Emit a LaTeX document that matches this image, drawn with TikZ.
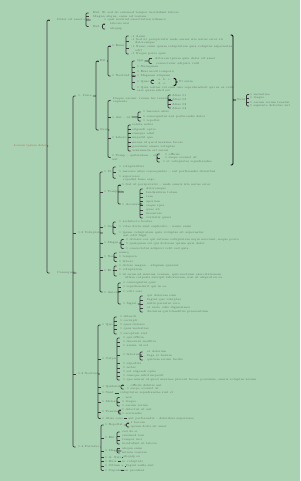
\documentclass[tikz,border=0pt]{standalone}
\usetikzlibrary{calc}
\definecolor{bg}{RGB}{168,210,177}
\definecolor{ln}{RGB}{58,58,58}
\definecolor{tx}{RGB}{100,116,105}
\definecolor{rt}{RGB}{196,96,84}
\tikzset{
  t/.style={anchor=west,inner sep=0pt,align=left,text=tx,font=\fontsize{2.9}{3.4}\selectfont},
  br/.style={draw=ln,line width=0.7pt,rounded corners=1.2pt},
  sm/.style={draw=black,line width=0.85pt,rounded corners=1.2pt}
}
\newcommand\T[4]{\node[t] (#1) at (#2,#3) {#4};}
% brace: bar x, parent, first child, last child, middle children
\newcommand\brc[5]{%
  \draw[br] let \p1=(#2.east),\p2=(#3.west),\p3=(#4.west) in
    ({#1pt+2.5pt},\y2) -- (#1pt,\y2) -- (#1pt,\y3) -- ({#1pt+2.5pt},\y3)
    ({\x1+1pt},\y1) -- (#1pt,\y1);
  \foreach \nd in {#5}{\draw[br] let \p4=(\nd.west) in (#1pt,\y4) -- ({#1pt+2.5pt},\y4);}}
% summary: bar x, top, bottom, label
\newcommand\smr[4]{%
  \draw[sm] let \p1=(#4.west),\p2=(#2),\p3=(#3) in
    ({#1pt-2.5pt},\y2) -- (#1pt,\y2) -- (#1pt,\y3) -- ({#1pt-2.5pt},\y3)
    (#1pt,\y1) -- ({\x1-0.8pt},\y1);}
\newcommand\lnk[2]{\draw[br] ([xshift=1pt]#1.east) -- ([xshift=-1pt]#2.west);}
\begin{document}
\begin{tikzpicture}[x=1pt,y=-1pt]
\fill[bg] (0,0) rectangle (300,481);
\useasboundingbox (0,0) rectangle (300,481);
% root
\node[t,text=rt] (R) at (14,146) {Lorem ipsum dolor};
% branch A
\T{A}{57}{20}{Dolor sit amet elit}
\T{a1}{93}{13}{Ext. E: sed do eiusmod tempor incididunt labore}
\T{a2}{93}{16.5}{Magna aliqua, enim ad veniam}
\T{a2c}{104}{20}{1 quis nostrud exercitation ullamco}
\T{a3}{93}{26.5}{Ext.}
\T{a31}{110}{24}{laboris nisi}
\T{a32}{110}{29}{aliquip}
% branch B
\T{B}{57}{273}{Consequat}
\T{B1}{78}{96}{1. Irure}
\T{B2}{78}{233}{1.2 Voluptate}
\T{B3}{78}{374}{1.3 Nostrud}
\T{B4}{78}{447}{1.4 Pariatur}
% B1
\T{B1a}{100}{61}{Est}
\T{B1b}{100}{130}{Sunt}
\T{P1}{112}{46}{1 Enim}
\T{P2}{112}{76}{1 Nostrud ex}
\T{p11}{131}{36}{-1 Anim}
\T{p12}{131}{41.5}{-1 Sed ut perspiciatis unde omnis iste natus error sit\\\hspace*{4pt}doloremque}
\T{p13}{131}{48.5}{-1 Nemo enim ipsam voluptatem quia voluptas aspernatur\\\hspace*{4pt}odit}
\T{p14}{131}{54}{-1 Neque porro quis}
\T{q1}{137}{61}{Qui}
\T{q11}{155}{58.5}{dolorem ipsum quia dolor sit amet}
\T{q12}{156}{63.5}{consectetur adipisci velit}
\T{q2}{137}{67}{1 Numquam}
\T{q3}{137}{72}{1 Eius modi tempora}
\T{q4}{137}{76}{1 Magnam aliquam}
\T{q5}{137}{82}{1 Quae}
\T{q51}{158}{80}{a. b. c.}
\T{q52}{158}{83.5}{d. e.}
\T{q5s}{178.5}{82}{Ut enim}
\T{q6}{137}{89.5}{1 Quis autem vel eum iure reprehenderit qui in ea velit\\esse quam nihil est}
\T{r1}{113}{100.5}{Itaque earum: rerum hic tenetur:\\sapiente}
\T{r11}{172}{95}{Alias 01}
\T{r12}{172}{99}{Alias 02}
\T{r13}{172}{104}{Alias 03}
\T{r14}{172}{108}{Alias 04}
\T{r2}{112}{117}{1 Aut -- ut}
\T{r21}{143}{112}{1 maiores alias}
\T{r22}{143}{117}{1 consequatur aut perferendis dolor}
\T{r23}{143}{121}{1 repellat}
\T{r3}{112}{138}{1 Libero}
\T{r31}{132}{125}{soluta nobis}
\T{r32}{132}{129.3}{eligendi optio}
\T{r33}{132}{133.3}{cumque nihil}
\T{r34}{132}{137.7}{impedit quo}
\T{r35}{132}{142.3}{minus id quod maxime facere}
\T{r36}{132}{146.7}{possimus omnis voluptas}
\T{r37}{132}{151}{assumenda est omnis}
\T{r4}{112}{157.5}{1 Temp -- quibusdam -- et\\aut}
\T{r41}{165}{154}{1 officiis}
\T{r42}{165}{158}{1 saepe eveniet ut}
\T{r43}{163}{162}{1 et voluptates repudiandae}
% summary
\coordinate (sT) at (233,35);
\coordinate (sB) at (233,165);
\T{S}{237}{100}{Sunt}
\T{s1}{250}{94.5}{1 molestiae}
\T{s2}{250}{98.3}{1 itaque}
\T{s3}{250}{102.2}{1 earum rerum tenetur}
\T{s4}{250}{106}{1 sapiente delectus aut}
% B2
\T{c1}{104}{172}{1 Ut}
\T{c11}{119}{167}{1 voluptatibus}
\T{c12}{119}{172}{1 maiores alias consequatur -- aut perferendis doloribus}
\T{c13}{119}{178.3}{1 asperiores\\\hspace*{4pt}repellat hanc ergo}
\T{c2}{104}{192}{1 Tempora}
\T{c21}{122}{185}{1 Sed ut perspiciatis -- unde omnis iste natus error}
\T{c22}{122}{204}{1 Accusant}
\T{k1}{146}{189}{doloremque}
\T{k2}{146}{193}{laudantium totam}
\T{k3}{146}{197}{rem}
\T{k4}{146}{201.5}{aperiam}
\T{k5}{146}{205.7}{eaque ipsa}
\T{k6}{146}{210}{quae ab}
\T{k7}{146}{214}{inventore}
\T{k8}{146}{218}{veritatis quasi}
\T{c3}{104}{227}{1 Sed}
\T{c31}{119}{222}{1 architecto beatae}
\T{c32}{119}{227}{1 vitae dicta sunt explicabo -- nemo enim}
\T{c33}{119}{234}{1 ipsam voluptatem quia voluptas sit aspernatur\\\hspace*{4pt}aut odit fugit}
\T{c4}{104}{243}{1 Magni}
\T{c41}{126}{239.5}{1 dolores eos qui ratione voluptatem sequi nesciunt, neque porro}
\T{c42}{126}{244}{1 quisquam est qui dolorem ipsum quia dolor}
\T{c43}{126}{248.5}{1 consectetur adipisci velit sed quia}
\T{c5}{104}{257}{1 Non}
\T{c51}{119}{253}{numq}
\T{c52}{119}{257}{1 tempora}
\T{c53}{119}{261.5}{1 labore}
\T{c6}{104}{270.5}{1 Et}
\T{c61}{119}{266}{1 dolore magna -- aliquam quaerat}
\T{c62}{119}{270}{1 voluptatem}
\T{c63}{119}{276}{1 ut enim ad minima veniam, quis nostrum exercitationem\\\hspace*{6pt}ullam corporis suscipit laboriosam, nisi ut aliquid ex ea}
\T{c7}{104}{292}{1 Autem}
\T{c71}{123}{283}{1 consequatur quis}
\T{c72}{123}{287}{1 reprehenderit qui in ea}
\T{c73}{123}{291.5}{1 velit esse}
\T{c74}{123}{304}{1 fugiat}
\T{d1}{147}{296}{qui dolorem eum}
\T{d2}{147}{300}{fugiat quo voluptas}
\T{d3}{147}{304}{nulla pariatur vero}
\T{d4}{147}{308}{et iusto odio dignissimos}
\T{d5}{147}{312}{ducimus qui blanditiis praesentium}
% B3
\T{e1}{102}{325}{1 Quo}
\T{e11}{120}{317}{1 deleniti}
\T{e12}{120}{321}{1 corrupti}
\T{e13}{120}{325}{1 quos dolores}
\T{e14}{120}{329}{1 quas molestias}
\T{e15}{120}{334}{1 excepturi sint}
\T{e2}{102}{359}{1 Culpa}
\T{e21}{123}{338}{1 qui officia}
\T{e22}{123}{342}{1 deserunt mollitia}
\T{e23}{123}{346}{1 animi, id est}
\T{e24}{123}{355}{1 laborum}
\T{f1}{147}{352}{et dolorum}
\T{f2}{147}{356}{fuga et harum}
\T{f3}{147}{360}{quidem rerum facilis}
\T{e25}{123}{363.5}{1 expedita}
\T{e26}{123}{368}{1 nobis}
\T{e27}{123}{372}{1 est eligendi optio}
\T{e28}{123}{376}{1 cumque nihil impedit}
\T{e29}{123}{380}{1 quo minus id quod maxime placeat facere possimus, omnis voluptas assum}
\T{e3}{102}{387}{1 Quibusd}
\T{e31}{127}{385}{-- officiis debitis aut}
\T{e32}{127}{389}{1 saepe eveniet ut}
\T{e4}{102}{393}{1 Sunt}
\T{e41}{120}{393}{voluptates repudiandae sint et}
\T{e5}{102}{402}{1 Molest}
\T{e51}{122}{397.5}{-- non}
\T{e52}{122}{402}{1 itaque}
\T{e53}{122}{406}{1 earum rerum}
\T{e6}{102}{412}{1 Tenetur}
\T{e61}{122}{410}{1 delectus ut aut}
\T{e62}{122}{414}{1 reiciendis}
\T{e7}{102}{418.5}{1 Alias cons}
\T{e71}{128}{418.5}{aut perferendis -- doloribus asperiores}
% B4
\T{g1}{105}{425}{1 Repellat}
\T{g11}{130.5}{423}{1 Lorem}
\T{g12}{130.5}{427}{ipsum dolor sit amet}
\T{g2}{105}{438}{1 Elit}
\T{g21}{122}{432}{sed do ei}
\T{g22}{122}{436}{eiusmod tem}
\T{g23}{122}{440}{tempor inci}
\T{g24}{122}{444}{incididunt ut labore}
\T{g3}{105}{451}{1 Magna}
\T{g31}{122}{448.5}{aliqua enim}
\T{g32}{122}{453}{minim veniam}
\T{g4}{105}{457}{1 A. Nisi}
\T{g41}{123}{457}{aliquip ex}
\T{g5}{105}{461.5}{1 Duis}
\T{g51}{122}{461.5}{in voluptate}
\T{g6}{105}{466}{1 Cillum e}
\T{g61}{126}{466}{fugiat nulla sint}
\T{g7}{105}{470.5}{1 Cupidat}
\T{g71}{122}{470.5}{non proident}
% braces
\brc{47}{R}{A}{B}{A}
\brc{86}{A}{a1}{a3}{a2}
\brc{102.5}{a3}{a31}{a32}{a31}
\brc{73}{B}{B1}{B4}{B2,B3}
\brc{96}{B1}{B1a}{B1b}{B1a}
\brc{108}{B1a}{P1}{P2}{P1}
\brc{126}{P1}{p11}{p14}{p12,p13}
\brc{132}{P2}{q1}{q6}{q2,q3,q4,q5}
\brc{149}{q1}{q11}{q12}{q11}
\brc{151}{q5}{q51}{q52}{q51}
\coordinate (qT) at (176,78.5);
\coordinate (qB) at (176,85.5);
\smr{176}{qT}{qB}{q5s}
\brc{108}{B1b}{r1}{r4}{r2,r3}
\brc{168}{r1}{r11}{r14}{r12,r13}
\brc{138}{r2}{r21}{r23}{r22}
\brc{128}{r3}{r31}{r37}{r32,r33,r34,r35,r36}
\brc{157}{r4}{r41}{r43}{r42}
\smr{233}{sT}{sB}{S}
\brc{246.5}{S}{s1}{s4}{s2,s3}
\brc{100}{B2}{c1}{c7}{c2,c3,c4,c5,c6}
\brc{113}{c1}{c11}{c13}{c12}
\brc{118}{c2}{c21}{c22}{c21}
\brc{140}{c22}{k1}{k8}{k2,k3,k4,k5,k6,k7}
\brc{113}{c3}{c31}{c33}{c32}
\brc{121}{c4}{c41}{c43}{c42}
\brc{114}{c5}{c51}{c53}{c52}
\brc{114}{c6}{c61}{c63}{c62}
\brc{118}{c7}{c71}{c74}{c72,c73}
\brc{140}{c74}{d1}{d5}{d2,d3,d4}
\brc{98}{B3}{e1}{e7}{e2,e3,e4,e5,e6}
\brc{114}{e1}{e11}{e15}{e12,e13,e14}
\brc{117}{e2}{e21}{e29}{e22,e23,e24,e25,e26,e27,e28}
\brc{140}{e24}{f1}{f3}{f2}
\brc{121}{e3}{e31}{e32}{e31}
\lnk{e4}{e41}
\brc{117}{e5}{e51}{e53}{e52}
\brc{118.5}{e6}{e61}{e62}{e61}
\lnk{e7}{e71}
\brc{101}{B4}{g1}{g7}{g2,g3,g4,g5,g6}
\brc{126.5}{g1}{g11}{g12}{g11}
\brc{117}{g2}{g21}{g24}{g22,g23}
\brc{117}{g3}{g31}{g32}{g31}
\lnk{g4}{g41}
\lnk{g5}{g51}
\lnk{g6}{g61}
\lnk{g7}{g71}
\end{tikzpicture}
\end{document}
